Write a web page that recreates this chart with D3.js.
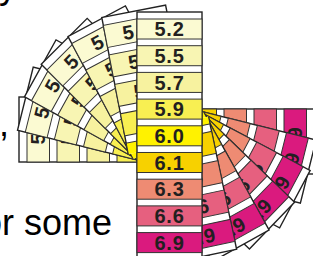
<!DOCTYPE html>
<html>
<head>
<meta charset="utf-8">
<title>pH strip fan</title>
<script src="https://cdn.jsdelivr.net/npm/d3@7"></script>
<style>
  body { margin: 0; background: #fff; }
  svg { display: block; }
  text { font-family: "Liberation Sans", Arial, sans-serif; }
  .cell-label { font-weight: bold; fill: #231f20; }
  .page-text { fill: #000; font-size: 36px; }
</style>
</head>
<body>
<svg id="chart"></svg>
<script>
// pH values printed on the strip, top to bottom
var labels = ["5.2", "5.5", "5.7", "5.9", "6.0", "6.1", "6.3", "6.6", "6.9"];
var colours = ["#fbfad2", "#f8f5b3", "#f7f29f", "#f8ef52", "#fff200", "#f7d100", "#ee8b73", "#e6607f", "#da1a7e"];
// fan strips, degrees turned away from the main strip
var leftAngles = [90, 76, 61, 45, 28, 11];
var rightAngles = [90, 76, 62, 46, 29, 12];
// bits of the page text that show round the figure
var pageWords = ["y", ",", "for some"];

var width = 313, height = 256;
var svg = d3.select("#chart").attr("width", width).attr("height", height);

var colour = d3.scaleOrdinal().domain(labels).range(colours);

var stripW = 65;
// main strip, white cap at each end
var mainLen = 247.6;
var mainY = d3.scaleBand().domain(labels).range([7, mainLen - 7]).paddingInner(0.25);
// the fanned copies are drawn a little longer
var fanLen = 278.5;
var fanY = d3.scaleBand().domain(labels).range([8, fanLen - 8]).paddingInner(0.25);

function drawStrip(g, y, len) {
  g.append("rect")
    .attr("x", 0).attr("y", 0)
    .attr("width", stripW).attr("height", len)
    .attr("fill", "#fff")
    .attr("stroke", "#222")
    .attr("stroke-width", 1.4);

  var cell = g.selectAll("g.cell")
    .data(labels)
    .enter()
    .append("g")
    .attr("class", "cell");

  cell.append("rect")
    .attr("x", 0)
    .attr("y", function(d) { return y(d); })
    .attr("width", stripW)
    .attr("height", y.bandwidth())
    .attr("fill", function(d) { return colour(d); })
    .attr("stroke", "#333")
    .attr("stroke-width", 1);

  cell.append("text")
    .attr("class", "cell-label")
    .attr("x", stripW / 2)
    .attr("y", function(d) { return y(d) + y.bandwidth() / 2; })
    .attr("dy", "0.36em")
    .attr("text-anchor", "middle")
    .style("font-size", "20px")
    .style("letter-spacing", "0.8px")
    .text(function(d) { return d; });
}

// page text behind the figure
svg.append("text").attr("class", "page-text").attr("x", -1).attr("y", -2).text(pageWords[0]);
svg.append("text").attr("class", "page-text").attr("x", -1).attr("y", 136).text(pageWords[1]);
svg.append("text").attr("class", "page-text").attr("x", 112).attr("y", 235)
  .attr("text-anchor", "end").text(pageWords[2]);

// only the outer part of each fanned strip is drawn
var defs = svg.append("defs");
defs.append("clipPath").attr("id", "clipLeft")
  .append("rect").attr("x", -2).attr("y", -2).attr("width", stripW + 4).attr("height", 129 + 12);
defs.append("clipPath").attr("id", "clipRight")
  .append("rect").attr("x", -2).attr("y", 153 - 10).attr("width", stripW + 4).attr("height", fanLen - 143 + 2);

// left fan turns about (148,140), strips pointing up to the left
leftAngles.forEach(function(a) {
  svg.append("g")
    .attr("transform", "translate(148,140) rotate(" + (-a) + ") translate(-22,-129)")
    .append("g")
    .attr("clip-path", "url(#clipLeft)")
    .call(function(g) { drawStrip(g, fanY, fanLen); });
});

// right fan turns about (189,131), strips pointing down to the right
rightAngles.forEach(function(a) {
  svg.append("g")
    .attr("transform", "translate(189,131) rotate(" + (-a) + ") translate(-43,-153)")
    .append("g")
    .attr("clip-path", "url(#clipRight)")
    .call(function(g) { drawStrip(g, fanY, fanLen); });
});

// main upright strip on top
var main = svg.append("g").attr("transform", "translate(137,12)");
drawStrip(main, mainY, mainLen);
</script>
</body>
</html>
